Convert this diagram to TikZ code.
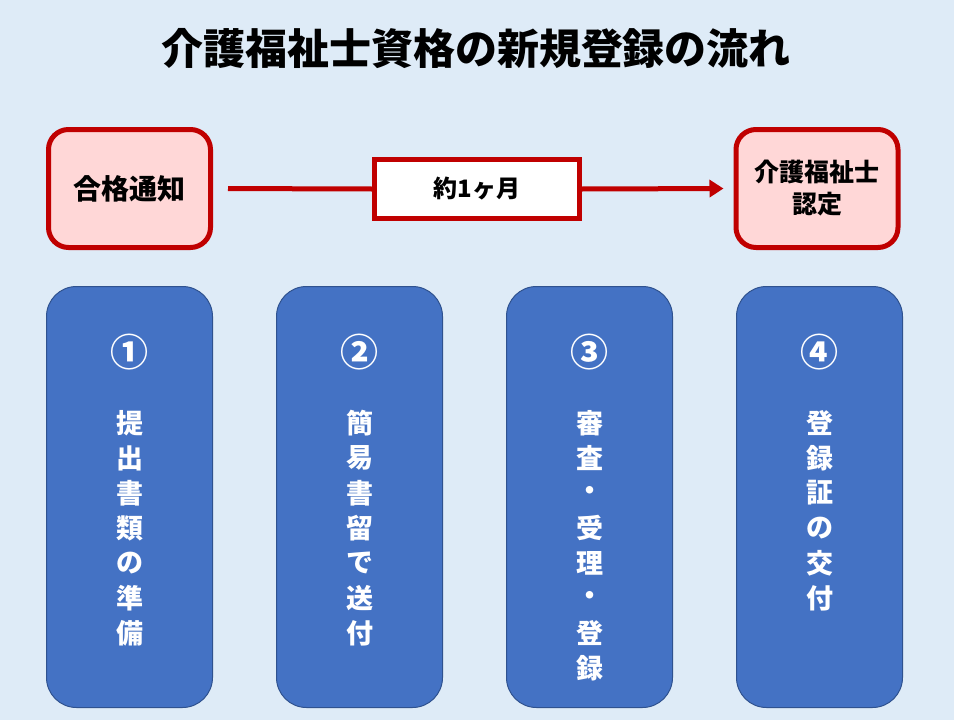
\documentclass[tikz,border=0pt]{standalone}
\usepackage{fontspec}
\setmainfont{Noto Sans CJK JP}
\usetikzlibrary{arrows.meta}
\definecolor{bgblue}{HTML}{DEEBF7}
\definecolor{boxblue}{HTML}{4472C4}
\definecolor{boxedge}{HTML}{2F528F}
\definecolor{darkred}{HTML}{C00000}
\definecolor{pinkfill}{HTML}{FFD7D7}
\tikzset{
  redbox/.style={draw=darkred, line width=5pt, fill=pinkfill, rounded corners=20pt,
    minimum width=162pt, minimum height=118pt, inner sep=0pt, align=center,
    font=\fontsize{25}{32}\selectfont\bfseries},
  midbox/.style={draw=darkred, line width=5pt, fill=white,
    minimum width=205pt, minimum height=59pt, inner sep=0pt,
    font=\fontsize{24}{28}\selectfont\bfseries},
  stepbox/.style={draw=boxedge, line width=1pt, fill=boxblue, rounded corners=30pt,
    minimum width=166pt, minimum height=421pt, inner sep=0pt},
  numlabel/.style={text=white, inner sep=0pt, font=\fontsize{38}{38}\selectfont\bfseries},
  vch/.style={text=white, inner sep=0pt, font=\fontsize{27}{27}\selectfont\bfseries},
  redline/.style={draw=darkred, line width=5pt},
}
\begin{document}
\begin{tikzpicture}[x=1pt, y=-1pt]
\fill[bgblue] (0,0) rectangle (954,720);
\useasboundingbox (0,0) rectangle (954,720);

\node[inner sep=0pt, font=\fontsize{42}{42}\selectfont\bfseries] (title) at (476,49) {介護福祉士資格の新規登録の流れ};

\node[redbox] (notice) at (129.5,188.5) {\fontsize{28}{32}\selectfont 合格通知};
\node[midbox] (month) at (477,189) {約1ヶ月};
\node[redbox] (cert) at (817,188.5) {介護福祉士\\認定};

\draw[redline, shorten <=15pt] (notice.east) -- (month.west);
\draw[redline, -{Triangle[length=14pt,width=17pt]}, shorten >=10pt] (month.east) -- (cert.west);

\node[stepbox] (s1) at (129.5,497) {};
\node[stepbox] (s2) at (359.5,497) {};
\node[stepbox] (s3) at (589.5,497) {};
\node[stepbox] (s4) at (819.5,497) {};

\node[numlabel] (n1) at (129.5,352) {①};
\node[numlabel] (n2) at (359.5,352) {②};
\node[numlabel] (n3) at (589.5,352) {③};
\node[numlabel] (n4) at (819.5,352) {④};

\foreach \c [count=\i] in {提,出,書,類,の,準,備}
  \node[vch] (a\i) at (129.5,423+35*\i-35) {\c};
\foreach \c [count=\i] in {簡,易,書,留,で,送,付}
  \node[vch] (b\i) at (359.5,423+35*\i-35) {\c};
\foreach \c [count=\i] in {審,査,・,受,理,・,登,録}
  \node[vch] (c\i) at (589.5,423+35*\i-35) {\c};
\foreach \c [count=\i] in {登,録,証,の,交,付}
  \node[vch] (d\i) at (819.5,423+35*\i-35) {\c};
\end{tikzpicture}
\end{document}
